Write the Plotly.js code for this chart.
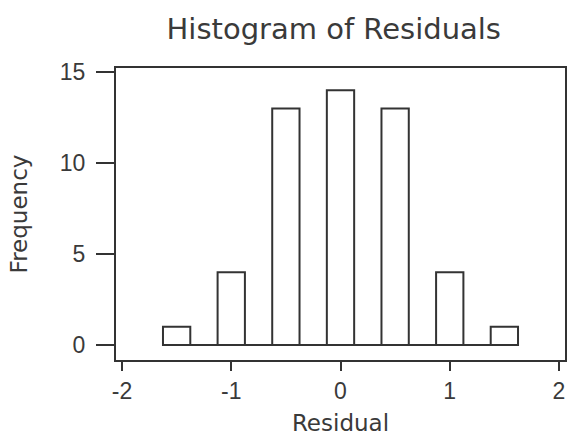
<!DOCTYPE html>
<html>
<head>
<meta charset="utf-8">
<script src="https://cdn.plot.ly/plotly-3.0.1.min.js"></script>
<style>html,body{margin:0;padding:0;background:#fff;}#chart{width:567px;height:437px;}</style>
</head>
<body>
<div id="chart"></div>
<script>
// Data
const binCenters = [-1.5, -1.0, -0.5, 0.0, 0.5, 1.0, 1.5];
const frequencies = [1, 4, 13, 14, 13, 4, 1];
const xTickVals = [-2, -1, 0, 1, 2];
const xTickText = ['-2', '-1', '0', '1', '2'];
const yTickVals = [0, 5, 10, 15];
const yTickText = ['0', '5', '10', '15'];

const lineCol = '#333333';
const textCol = '#3a3a3a';

const trace = {
  type: 'bar',
  x: binCenters,
  y: frequencies,
  width: 0.25,
  marker: {color: '#ffffff', line: {color: lineCol, width: 2}},
  hoverinfo: 'x+y'
};

const layout = {
  width: 567, height: 437,
  margin: {l: 116, r: 2, t: 68, b: 77, pad: 0},
  paper_bgcolor: '#ffffff', plot_bgcolor: '#ffffff',
  showlegend: false,
  title: {
    text: 'Histogram of Residuals',
    font: {family: 'DejaVu Sans', size: 29, color: textCol},
    xref: 'paper', x: 0.485, xanchor: 'center',
    yref: 'container', y: 1 - 29/437, yanchor: 'middle'
  },
  xaxis: {
    range: [-2.055, 2.055],
    tickmode: 'array', tickvals: xTickVals, ticktext: xTickText,
    ticks: 'outside', ticklen: 9, tickwidth: 2, tickcolor: lineCol,
    showline: true, linewidth: 2, linecolor: lineCol, mirror: true,
    showgrid: false, zeroline: false,
    tickfont: {family: 'Liberation Sans', size: 23, color: textCol},
    title: {text: 'Residual', font: {family: 'DejaVu Sans', size: 23, color: textCol}, standoff: 12}
  },
  yaxis: {
    range: [-0.82, 15.22],
    tickmode: 'array', tickvals: yTickVals, ticktext: yTickText,
    ticks: 'outside', ticklen: 18, tickwidth: 2, tickcolor: lineCol,
    ticklabelstandoff: 6,
    showline: true, linewidth: 2, linecolor: lineCol, mirror: true,
    showgrid: false, zeroline: false,
    tickfont: {family: 'Liberation Sans', size: 23, color: textCol},
    title: {text: 'Frequency', font: {family: 'DejaVu Sans', size: 23, color: textCol}, standoff: 26}
  },
  shapes: [{
    type: 'line', xref: 'x', yref: 'y',
    x0: binCenters[0] - 0.125, x1: binCenters[binCenters.length - 1] + 0.125, y0: 0, y1: 0,
    line: {color: lineCol, width: 2}
  }]
};

Plotly.newPlot('chart', [trace], layout, {staticPlot: true, displayModeBar: false});
</script>
</body>
</html>
